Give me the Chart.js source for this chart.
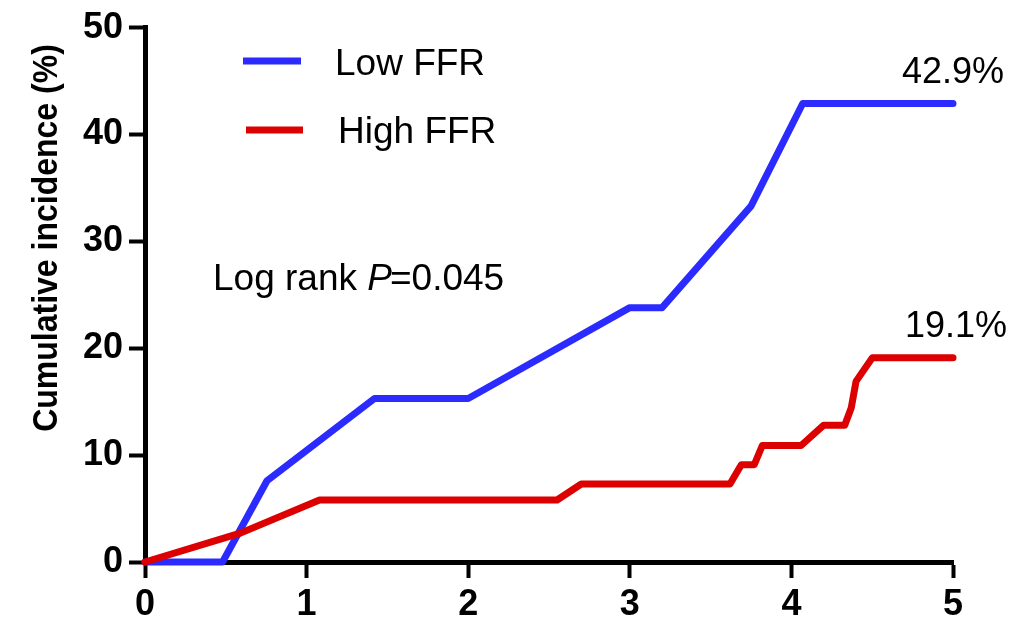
<!DOCTYPE html>
<html>
<head>
<meta charset="utf-8">
<script src="https://cdn.jsdelivr.net/npm/chart.js@4.4.1/dist/chart.umd.min.js"></script>
<style>
  html, body { margin: 0; padding: 0; background: #ffffff; }
  #wrap { width: 1035px; height: 629px; position: relative; }
</style>
</head>
<body>
<div id="wrap"><canvas id="c" width="1035" height="629"></canvas></div>
<script>
// ---- Data ----
const seriesNames = ['Low FFR', 'High FFR'];
const lowX  = [0, 0.48, 0.755, 1.42, 2.0, 3.0, 3.2, 3.75, 4.07, 5];
const lowY  = [0, 0, 7.6, 15.3, 15.3, 23.8, 23.8, 33.3, 42.9, 42.9];
const highX = [0, 0.59, 1.08, 2.55, 2.7, 3.62, 3.69, 3.77, 3.82, 4.06, 4.2, 4.33, 4.37, 4.4, 4.5, 5];
const highY = [0, 2.7, 5.8, 5.8, 7.3, 7.3, 9.1, 9.1, 10.9, 10.9, 12.8, 12.8, 14.4, 16.9, 19.1, 19.1];
const xTicks = [0, 1, 2, 3, 4, 5];
const yTicks = [0, 10, 20, 30, 40, 50];
const endLabels = ['42.9%', '19.1%'];
const yTitle = 'Cumulative incidence (%)';
const pText = ['Log rank ', 'P', '=0.045'];

const BLUE = '#2b2bff';
const RED = '#dd0000';
const FONT = '"Liberation Sans", Arial, sans-serif';

function pts(xs, ys) { return xs.map((x, i) => ({ x: x, y: ys[i] })); }

const overlay = {
  id: 'overlay',
  afterDraw(chart) {
    const ctx = chart.ctx;
    ctx.save();
    ctx.fillStyle = '#000';
    ctx.textBaseline = 'alphabetic';
    ctx.textAlign = 'left';
    // legend
    ctx.lineCap = 'butt';
    ctx.lineWidth = 7;
    ctx.strokeStyle = BLUE;
    ctx.beginPath(); ctx.moveTo(243, 61); ctx.lineTo(301, 61); ctx.stroke();
    ctx.strokeStyle = RED;
    ctx.beginPath(); ctx.moveTo(246, 130); ctx.lineTo(303, 130); ctx.stroke();
    ctx.font = '37px ' + FONT;
    ctx.fillText(seriesNames[0], 335, 75);
    ctx.fillText(seriesNames[1], 338, 143);
    // log rank
    let x = 213;
    ctx.font = '37px ' + FONT;
    ctx.fillText(pText[0], x, 290);
    x += ctx.measureText(pText[0]).width;
    ctx.font = 'italic 37px ' + FONT;
    ctx.fillText(pText[1], x, 290);
    x += ctx.measureText(pText[1]).width - 2;
    ctx.font = '37px ' + FONT;
    ctx.fillText(pText[2], x, 290);
    // end labels
    ctx.font = '36px ' + FONT;
    ctx.fillText(endLabels[0], 902, 83);
    ctx.fillText(endLabels[1], 905, 337);
    // y title
    ctx.save();
    ctx.translate(47, 238);
    ctx.scale(1.12, 1);
    ctx.rotate(-Math.PI / 2);
    ctx.textAlign = 'center';
    ctx.textBaseline = 'middle';
    ctx.font = 'bold 32px ' + FONT;
    ctx.fillText(yTitle, 0, 0);
    ctx.restore();
    ctx.restore();
  }
};

new Chart(document.getElementById('c'), {
  type: 'line',
  data: {
    datasets: [
      {
        label: seriesNames[1],
        data: pts(highX, highY),
        borderColor: RED,
        backgroundColor: RED,
        borderWidth: 7,
        pointRadius: 0,
        tension: 0,
        borderJoinStyle: 'round',
        borderCapStyle: 'round',
        clip: false
      },
      {
        label: seriesNames[0],
        data: pts(lowX, lowY),
        borderColor: BLUE,
        backgroundColor: BLUE,
        borderWidth: 7,
        pointRadius: 0,
        tension: 0,
        borderJoinStyle: 'round',
        borderCapStyle: 'round',
        clip: false
      }
    ]
  },
  options: {
    responsive: false,
    animation: false,
    devicePixelRatio: 1,
    layout: { padding: { top: 25, right: 82, left: 0, bottom: 0 } },
    plugins: { legend: { display: false }, tooltip: { enabled: false } },
    scales: {
      x: {
        type: 'linear',
        min: 0, max: 5,
        afterFit(s) { s.height = 67; },
        afterBuildTicks(s) { s.ticks = xTicks.map(v => ({ value: v })); },
        border: { display: true, color: '#000', width: 5 },
        grid: { display: true, drawOnChartArea: false, drawTicks: true, tickLength: 16, tickWidth: 4, tickColor: '#000', color: '#000' },
        ticks: { color: '#000', padding: 5, font: { family: FONT, size: 36, weight: 'bold' }, maxRotation: 0 }
      },
      y: {
        type: 'linear',
        min: 0, max: 50,
        afterFit(s) { s.width = 145; },
        afterBuildTicks(s) { s.ticks = yTicks.map(v => ({ value: v })); },
        border: { display: true, color: '#000', width: 5 },
        grid: { display: true, drawOnChartArea: false, drawTicks: true, tickLength: 16, tickWidth: 4, tickColor: '#000', color: '#000' },
        ticks: { color: '#000', padding: 6, font: { family: FONT, size: 36, weight: 'bold' } }
      }
    }
  },
  plugins: [overlay]
});
</script>
</body>
</html>
